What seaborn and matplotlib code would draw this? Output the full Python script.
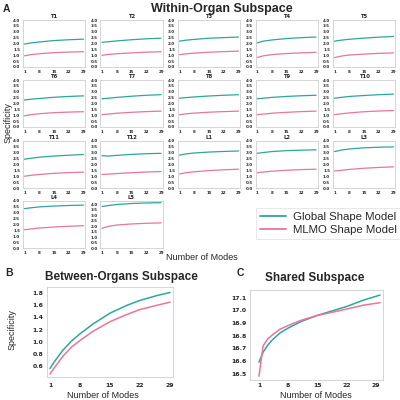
#!/usr/bin/env python3

import numpy as np
import pandas as pd
import matplotlib
matplotlib.use("Agg")
import matplotlib.pyplot as plt
from matplotlib.lines import Line2D
import seaborn as sns

# *** Specificity vs number of modes ***

GREEN = "#2ba89a"
PINK = "#e9759b"

# panel A: within-organ subspaces, values read at these modes
within_modes = [1, 4, 8, 15, 22, 29]
within_names = ["T1", "T2", "T3", "T4", "T5",
                "T6", "T7", "T8", "T9", "T10",
                "T11", "T12", "L1", "L2", "L3",
                "L4", "L5"]
within_global = [
    [1.95, 2.05, 2.13, 2.25, 2.32, 2.37],
    [2.10, 2.15, 2.22, 2.32, 2.40, 2.45],
    [2.20, 2.28, 2.35, 2.45, 2.50, 2.55],
    [2.05, 2.20, 2.30, 2.42, 2.50, 2.55],
    [2.20, 2.28, 2.36, 2.46, 2.54, 2.60],
    [2.30, 2.36, 2.43, 2.53, 2.60, 2.65],
    [2.40, 2.45, 2.52, 2.62, 2.70, 2.75],
    [2.45, 2.50, 2.56, 2.64, 2.70, 2.75],
    [2.40, 2.45, 2.52, 2.60, 2.66, 2.70],
    [2.45, 2.52, 2.60, 2.68, 2.75, 2.80],
    [2.45, 2.53, 2.62, 2.72, 2.79, 2.85],
    [2.75, 2.72, 2.78, 2.86, 2.92, 2.95],
    [2.80, 2.90, 2.98, 3.06, 3.11, 3.15],
    [2.95, 3.02, 3.10, 3.18, 3.22, 3.25],
    [3.10, 3.22, 3.32, 3.42, 3.47, 3.50],
    [3.35, 3.42, 3.50, 3.57, 3.62, 3.65],
    [3.80, 3.88, 3.98, 4.07, 4.12, 4.15],
]
within_mlmo = [
    [0.95, 1.05, 1.13, 1.22, 1.27, 1.30],
    [1.00, 1.07, 1.13, 1.20, 1.26, 1.30],
    [1.05, 1.12, 1.18, 1.26, 1.31, 1.35],
    [0.80, 0.95, 1.05, 1.15, 1.20, 1.25],
    [0.80, 0.92, 1.02, 1.10, 1.16, 1.20],
    [0.95, 1.05, 1.13, 1.22, 1.27, 1.30],
    [1.05, 1.10, 1.17, 1.25, 1.31, 1.35],
    [1.05, 1.12, 1.18, 1.26, 1.31, 1.35],
    [1.05, 1.10, 1.17, 1.25, 1.31, 1.35],
    [1.05, 1.12, 1.20, 1.30, 1.36, 1.40],
    [1.00, 1.08, 1.15, 1.25, 1.31, 1.35],
    [1.15, 1.18, 1.23, 1.30, 1.36, 1.40],
    [1.20, 1.30, 1.38, 1.48, 1.55, 1.60],
    [1.30, 1.36, 1.43, 1.51, 1.57, 1.60],
    [1.45, 1.50, 1.58, 1.68, 1.75, 1.80],
    [1.55, 1.62, 1.70, 1.79, 1.85, 1.90],
    [1.80, 1.98, 2.10, 2.20, 2.26, 2.30],
]

# panel B: between-organs subspace
between_modes = [1, 2, 4, 6, 8, 11, 15, 19, 22, 26, 29]
between_global = [0.56, 0.67, 0.86, 1.01, 1.13, 1.29, 1.47, 1.60, 1.68, 1.76, 1.81]
between_mlmo = [0.47, 0.57, 0.76, 0.91, 1.02, 1.17, 1.33, 1.45, 1.53, 1.60, 1.65]

# panel C: shared subspace
shared_modes = [1, 2, 3, 4, 6, 8, 11, 15, 18, 22, 26, 30]
shared_global = [16.59, 16.67, 16.72, 16.76, 16.82, 16.86, 16.91, 16.96, 16.99, 17.03, 17.08, 17.12]
shared_mlmo = [16.48, 16.72, 16.77, 16.80, 16.85, 16.88, 16.92, 16.96, 16.98, 17.01, 17.04, 17.06]

xticks = [1, 8, 15, 22, 29]

sns.set_style("white")
plt.rcParams['font.family'] = ['Liberation Sans', 'DejaVu Sans']

fig = plt.figure(figsize=(4, 4), dpi=100)


def px_axes(x0, y0, x1, y1):
    '''axes from pixel box (top-left origin)'''
    return fig.add_axes([x0 / 400, 1 - y1 / 400, (x1 - x0) / 400, (y1 - y0) / 400])


def style_axes(ax, tick_size, pad=1):
    for s in ax.spines.values():
        s.set_color("#cfcfcf")
        s.set_linewidth(0.6)
    ax.tick_params(axis="both", length=1.5, width=0.5, color="#555555", pad=pad,
                   labelsize=tick_size)
    for lab in ax.get_xticklabels() + ax.get_yticklabels():
        lab.set_fontfamily("DejaVu Sans")
        lab.set_fontweight("bold")


col_left = [23, 100.5, 178, 255.5, 333]
row_top = [20, 80, 141, 201]
for i, name in enumerate(within_names):
    r, c = divmod(i, 5)
    ax = px_axes(col_left[c], row_top[r], col_left[c] + 62, row_top[r] + 47)
    sns.lineplot(x=within_modes, y=within_global[i], ax=ax, color=GREEN, lw=0.9)
    sns.lineplot(x=within_modes, y=within_mlmo[i], ax=ax, color=PINK, lw=0.9)
    ax.set_xlim(0.3, 29.7)
    ax.set_ylim(0, 4.3 if name == "L5" else 4.0)
    ax.set_xticks(xticks)
    ax.set_yticks(np.arange(0, 4.01, 0.5))
    ax.set_yticklabels(["%.1f" % v for v in np.arange(0, 4.01, 0.5)])
    ax.set_title(name, fontsize=3.8, fontweight="bold", pad=1.2, family="DejaVu Sans")
    style_axes(ax, 2.9, pad=0.6)

fig.text(0.008, 1 - 9 / 400, "A", fontsize=7.5, fontweight="bold", va="center")
fig.text(222 / 400, 1 - 9 / 400, "Within-Organ Subspace", fontsize=9,
         fontweight="bold", ha="center", va="center")
fig.text(8 / 400, 1 - 123 / 400, "Specificity", fontsize=6.5, rotation=90,
         ha="center", va="center")
fig.text(202 / 400, 1 - 257 / 400, "Number of Modes", fontsize=6.5,
         ha="center", va="center")

handles = [Line2D([], [], color=GREEN, lw=1.3), Line2D([], [], color=PINK, lw=1.3)]
leg = fig.legend(handles, ["Global Shape Model", "MLMO Shape Model"],
                 loc="upper left", bbox_to_anchor=(250 / 400, 1 - 202 / 400),
                 fontsize=8.2, frameon=True, fancybox=False, handlelength=2.3,
                 borderpad=0.35, labelspacing=0.25, handletextpad=0.6)
leg.get_frame().set_edgecolor("#dddddd")
leg.get_frame().set_linewidth(0.6)

# panel B
axb = px_axes(47, 287, 173, 377)
sns.lineplot(x=between_modes, y=between_global, ax=axb, color=GREEN, lw=1.1)
sns.lineplot(x=between_modes, y=between_mlmo, ax=axb, color=PINK, lw=1.1)
axb.set_xlim(0.3, 29.7)
axb.set_ylim(0.42, 1.9)
axb.set_xticks(xticks)
axb.set_yticks([0.6, 0.8, 1.0, 1.2, 1.4, 1.6, 1.8])
axb.set_yticklabels(["0.6", "0.8", "1.0", "1.2", "1.4", "1.6", "1.8"])
style_axes(axb, 4.4)
axb.tick_params(axis="x", pad=3)
fig.text(5 / 400, 1 - 273 / 400, "B", fontsize=7.5, fontweight="bold", va="center")
fig.text(121 / 400, 1 - 277 / 400, "Between-Organs Subspace", fontsize=8.5,
         fontweight="bold", ha="center", va="center")
fig.text(12 / 400, 1 - 330 / 400, "Specificity", fontsize=6.5, rotation=90,
         ha="center", va="center")
fig.text(103 / 400, 1 - 395 / 400, "Number of Modes", fontsize=6.5,
         ha="center", va="center")

# panel C
axc = px_axes(250, 290, 383, 380)
sns.lineplot(x=shared_modes, y=shared_global, ax=axc, color=GREEN, lw=1.1)
sns.lineplot(x=shared_modes, y=shared_mlmo, ax=axc, color=PINK, lw=1.1)
axc.set_xlim(-1.15, 30.7)
axc.set_ylim(16.45, 17.16)
axc.set_xticks(xticks)
axc.set_yticks([16.5, 16.6, 16.7, 16.8, 16.9, 17.0, 17.1])
axc.set_yticklabels(["16.5", "16.6", "16.7", "16.8", "16.9", "17.0", "17.1"])
style_axes(axc, 4.4)
fig.text(237 / 400, 1 - 273 / 400, "C", fontsize=7.5, fontweight="bold", va="center")
fig.text(315 / 400, 1 - 278 / 400, "Shared Subspace", fontsize=8.5,
         fontweight="bold", ha="center", va="center")
fig.text(316 / 400, 1 - 395 / 400, "Number of Modes", fontsize=6.5,
         ha="center", va="center")

fig.savefig("out.png", dpi=100, facecolor="white")
